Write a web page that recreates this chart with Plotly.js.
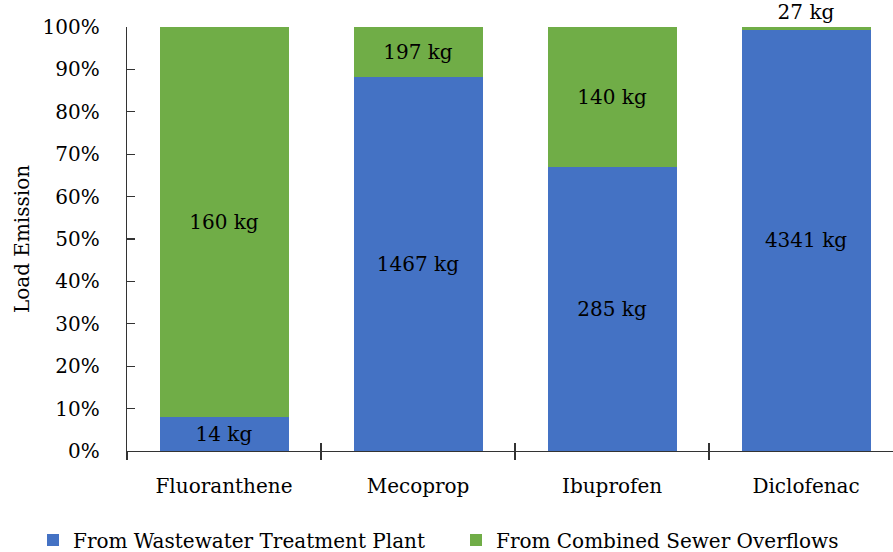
<!DOCTYPE html>
<html>
<head>
<meta charset="utf-8">
<script src="https://cdn.plot.ly/plotly-3.0.1.min.js"></script>
<style>html,body{margin:0;padding:0;background:#fff;}#chart{width:893px;height:552px;}</style>
</head>
<body>
<div id="chart"></div>
<script>
const categories = ['Fluoranthene', 'Mecoprop', 'Ibuprofen', 'Diclofenac'];
const wwtpKg = [14, 1467, 285, 4341];
const csoKg = [160, 197, 140, 27];
const seriesNames = ['From Wastewater Treatment Plant', 'From Combined Sewer Overflows'];
const yTickVals = [0, 10, 20, 30, 40, 50, 60, 70, 80, 90, 100];

const FONT = 'DejaVu Serif';
const labelFont = {family: FONT, size: 20, color: '#000'};

const traces = [
  {
    type: 'bar', name: seriesNames[0], x: categories, y: wwtpKg, legend: 'legend',
    text: wwtpKg.map(v => v + ' kg'), texttemplate: '%{text}',
    textposition: 'inside', insidetextanchor: 'middle', constraintext: 'none', textangle: 0,
    textfont: labelFont, insidetextfont: labelFont, cliponaxis: false,
    marker: {color: '#4472C4'}, hoverinfo: 'skip'
  },
  {
    type: 'bar', name: seriesNames[1], x: categories, y: csoKg, legend: 'legend2',
    text: csoKg.map(v => v + ' kg'), texttemplate: '%{text}',
    textposition: csoKg.map((v, i) => (v / (v + wwtpKg[i]) < 0.03 ? 'outside' : 'inside')),
    insidetextanchor: 'middle', constraintext: 'none', textangle: 0,
    textfont: labelFont, insidetextfont: labelFont, outsidetextfont: labelFont, cliponaxis: false,
    marker: {color: '#70AD47'}, hoverinfo: 'skip'
  },
  {
    type: 'scatter', mode: 'markers', x: categories, y: categories.map(() => null),
    xaxis: 'x2', showlegend: false, hoverinfo: 'skip'
  }
];

const legendBase = {
  orientation: 'h', xref: 'container', yref: 'container',
  xanchor: 'left', y: 12 / 552, yanchor: 'middle',
  font: {family: FONT, size: 20, color: '#000'}, itemwidth: 30,
  bgcolor: 'rgba(0,0,0,0)'
};

const xRange = [-0.5, 3.448];
const layout = {
  width: 893, height: 552,
  margin: {l: 127, r: 0, t: 27, b: 101},
  paper_bgcolor: '#fff', plot_bgcolor: '#fff',
  font: {family: FONT, size: 20, color: '#000'},
  barmode: 'stack', barnorm: 'percent', bargap: 0.335,
  showlegend: true,
  legend: Object.assign({}, legendBase, {x: 33 / 893}),
  legend2: Object.assign({}, legendBase, {x: 456 / 893}),
  xaxis: {
    type: 'category', range: xRange, tickson: 'boundaries',
    ticks: 'outside', ticklen: 8, tickwidth: 1.2, tickcolor: '#333',
    showline: true, linecolor: '#333', linewidth: 1.3,
    showgrid: false, zeroline: false, ticklabelstandoff: 17,
    tickfont: {family: FONT, size: 20, color: '#000'}
  },
  xaxis2: {
    type: 'category', overlaying: 'x', range: xRange, tickson: 'boundaries',
    ticks: 'inside', ticklen: 8, tickwidth: 1.2, tickcolor: '#333',
    showline: false, showgrid: false, zeroline: false, showticklabels: false,
    side: 'bottom', categoryarray: categories, categoryorder: 'array'
  },
  yaxis: {
    range: [0, 100], tickvals: yTickVals, ticktext: yTickVals.map(v => v + '%'),
    ticks: 'inside', ticklen: 8, tickwidth: 1.2, tickcolor: '#333',
    showline: true, linecolor: '#333', linewidth: 1.3,
    showgrid: false, zeroline: false, ticklabelstandoff: 22,
    tickfont: {family: FONT, size: 20, color: '#000'},
    title: {text: 'Load Emission', font: {family: FONT, size: 20, color: '#000'}, standoff: 7}
  }
};

Plotly.newPlot('chart', traces, layout, {displayModeBar: false, staticPlot: true});
</script>
</body>
</html>
